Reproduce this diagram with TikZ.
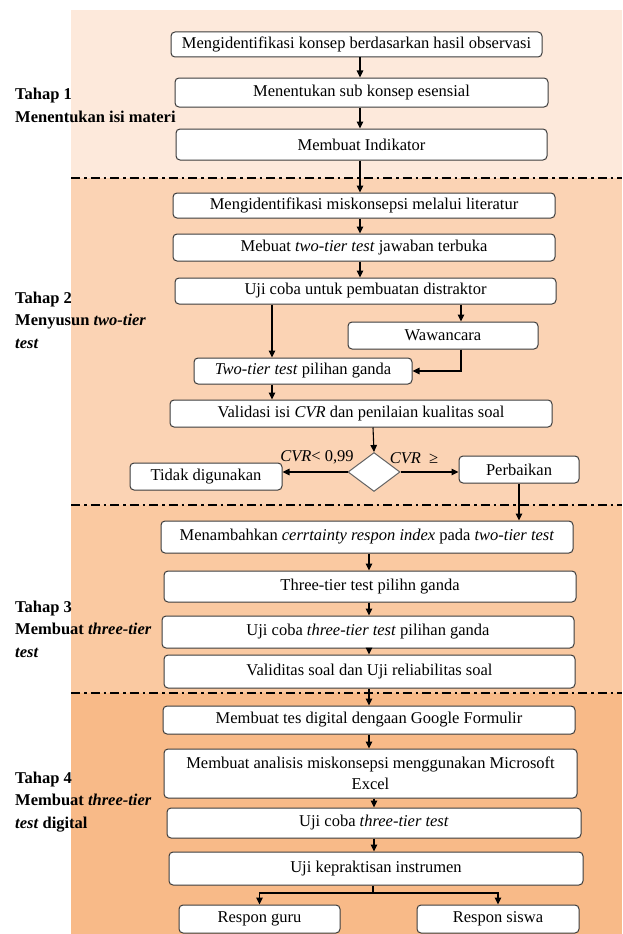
\documentclass[tikz,border=0pt]{standalone}
\usepackage{fontspec}
\setmainfont{Liberation Serif}
\usetikzlibrary{arrows.meta,shapes.geometric}
\definecolor{tahapa}{RGB}{253,233,219}
\definecolor{tahapb}{RGB}{251,211,180}
\definecolor{tahapc}{RGB}{250,201,161}
\definecolor{tahapd}{RGB}{248,186,136}
\definecolor{garisc}{RGB}{60,60,60}
\tikzset{
  langkah/.style = {draw=garisc, line width=1pt, fill=white, rounded corners=4pt,
                    align=center, inner sep=2pt},
  pilih/.style   = {diamond, draw=garisc!80, line width=1pt, fill=white, inner sep=0pt,
                    minimum width=52, minimum height=39},
  alur/.style    = {-{Triangle[length=7pt,width=6.5pt]}, line width=1.1pt, draw=black},
  batas/.style   = {line width=2.2pt, dash pattern=on 9pt off 4pt on 2.5pt off 4pt},
  tahap/.style   = {anchor=west, align=left, inner sep=0pt,
                    font=\bfseries\fontsize{16.5}{22.5}\selectfont},
  syarat/.style  = {inner sep=0pt},
}

\begin{document}
\begin{tikzpicture}[x=1pt, y=-1pt, font=\fontsize{16.5}{21}\selectfont]

\useasboundingbox (0,0) rectangle (622,934);

\fill[tahapa] (71,10) rectangle (622,178);
\fill[tahapb] (71,178) rectangle (622,505);
\fill[tahapc] (71,505) rectangle (622,693);
\fill[tahapd] (71,693) rectangle (622,934);
\draw[batas] (71,178) -- (622,178);
\draw[batas] (71,505) -- (622,505);
\draw[batas] (71,693) -- (622,693);

\coordinate (kolA) at (360,0);
\coordinate (kolL) at (272,0);
\coordinate (kolR) at (461,0);
\coordinate (kolB) at (373,0);
\coordinate (kolC) at (369,0);
\coordinate (kolD) at (374,0);
\coordinate (cabang) at (373,893);

\node[tahap] (t1) at (15,105.5) {Tahap 1\\Menentukan isi materi};
\node[tahap] (t2) at (15,320) {Tahap 2\\Menyusun \textit{two-tier}\\\textit{test}};
\node[tahap] (t3) at (15,629) {Tahap 3\\Membuat \textit{three-tier}\\\textit{test}};
\node[tahap] (t4) at (15,802) {Tahap 4\\Membuat \textit{three-tier}\\\textit{test} digital};

\node[langkah, minimum width=371, minimum height=25] (observasi) at (356.5,44.5) {Mengidentifikasi konsep berdasarkan hasil observasi};
\node[langkah, minimum width=373, minimum height=29] (esensial) at (361.5,92.5) {Menentukan sub konsep esensial};
\node[langkah, minimum width=371, minimum height=31] (indikator) at (361.5,144.5) {Membuat Indikator};

\node[langkah, minimum width=382, minimum height=25] (literatur) at (364,205.5) {Mengidentifikasi miskonsepsi melalui literatur};
\node[langkah, minimum width=382, minimum height=27] (terbuka) at (364,247.5) {Mebuat \textit{two-tier test} jawaban terbuka};
\node[langkah, minimum width=381, minimum height=26] (distraktor) at (365.5,291) {Uji coba untuk pembuatan distraktor};
\node[langkah, minimum width=190, minimum height=27] (wawancara) at (443,335.5) {Wawancara};
\node[langkah, minimum width=218, minimum height=26] (ganda) at (303,371) {\textit{Two-tier test} pilihan ganda};
\node[langkah, minimum width=382, minimum height=27] (validasi) at (361,413.5) {Validasi isi \textit{CVR} dan penilaian kualitas soal};
\node[pilih] (cvr) at (374,472) {};
\node[langkah, minimum width=152, minimum height=27] (tidak) at (206,476.5) {Tidak digunakan};
\node[langkah, minimum width=120, minimum height=27] (perbaikan) at (519,469.5) {Perbaikan};
\node[syarat, anchor=south] (kurang) at (317,464) {\textit{CVR}< 0,99};
\node[syarat, anchor=south] (lebih) at (414,464) {\textit{CVR}\ \ ≥};

\node[langkah, minimum width=412, minimum height=32] (cri) at (367,537) {Menambahkan \textit{cerrtainty respon index} pada \textit{two-tier test}};
\node[langkah, minimum width=412, minimum height=31] (tiga) at (370,586.5) {Three-tier test pilihn ganda};
\node[langkah, minimum width=412, minimum height=32] (ujitiga) at (368,632) {Uji coba \textit{three-tier test} pilihan ganda};
\node[langkah, minimum width=411, minimum height=33] (reliabel) at (369.5,671.5) {Validitas soal dan Uji reliabilitas soal};

\node[langkah, minimum width=412, minimum height=28] (formulir) at (369,720) {Membuat tes digital dengaan Google Formulir};
\node[langkah, minimum width=413, minimum height=49] (excel) at (370.5,773.5) {Membuat analisis miskonsepsi menggunakan Microsoft\\Excel};
\node[langkah, minimum width=414, minimum height=30] (ujidigital) at (374,823) {Uji coba \textit{three-tier test}};
\node[langkah, minimum width=414, minimum height=33] (praktis) at (376,868.5) {Uji kepraktisan instrumen};
\node[langkah, minimum width=161, minimum height=28] (guru) at (259.5,919) {Respon guru};
\node[langkah, minimum width=162, minimum height=28] (siswa) at (498,919) {Respon siswa};

\draw[alur] (observasi.south -| kolA) -- (esensial.north -| kolA);
\draw[alur] (esensial.south -| kolA) -- (indikator.north -| kolA);
\draw[alur] (indikator.south -| kolA) -- (literatur.north -| kolA);
\draw[alur] (literatur.south -| kolA) -- (terbuka.north -| kolA);
\draw[alur] (terbuka.south -| kolA) -- (distraktor.north -| kolA);
\draw[alur] (distraktor.south -| kolL) -- (ganda.north -| kolL);
\draw[alur] (distraktor.south -| kolR) -- (wawancara.north -| kolR);
\draw[alur] (wawancara.south -| kolR) |- (ganda.east);
\draw[alur] (ganda.south -| kolL) -- (validasi.north -| kolL);
\draw[alur] (validasi.south -| kolB) -- (cvr.north);
\draw[alur] (cvr.west) -- (cvr.west -| tidak.east);
\draw[alur] (cvr.east) -- (cvr.east -| perbaikan.west);
\draw[alur] (perbaikan.south) -- (perbaikan.south |- cri.north);

\draw[alur] (cri.south -| kolC) -- (tiga.north -| kolC);
\draw[alur] (tiga.south -| kolC) -- (ujitiga.north -| kolC);
\draw[alur] (ujitiga.south -| kolC) -- (reliabel.north -| kolC);
\draw[alur] (reliabel.south -| kolC) -- (formulir.north -| kolC);
\draw[alur] (formulir.south -| kolC) -- (excel.north -| kolC);
\draw[alur] (excel.south -| kolD) -- (ujidigital.north -| kolD);
\draw[alur] (ujidigital.south -| kolD) -- (praktis.north -| kolD);
\draw[line width=1.1pt] (praktis.south -| cabang) -- (cabang);
\draw[alur] (cabang) -| (guru.north);
\draw[alur] (cabang) -| (siswa.north);

\end{tikzpicture}
\end{document}
